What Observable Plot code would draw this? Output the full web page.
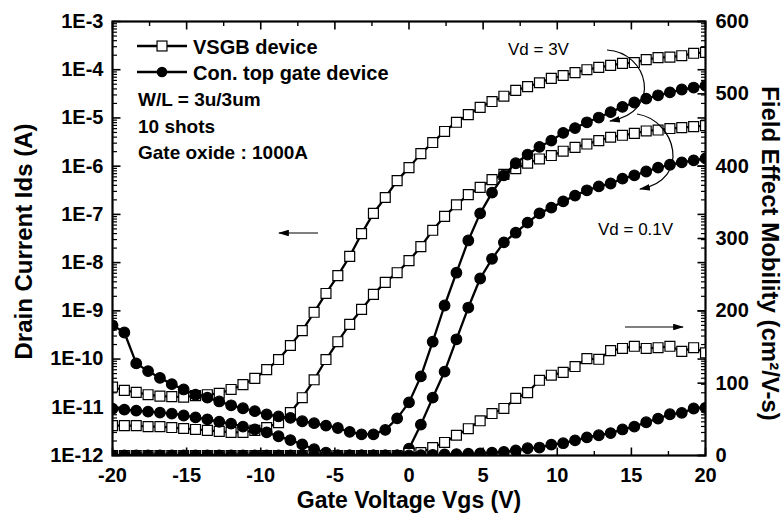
<!DOCTYPE html>
<html><head><meta charset="utf-8">
<script src="https://cdn.jsdelivr.net/npm/d3@7"></script>
<script src="https://cdn.jsdelivr.net/npm/@observablehq/plot@0.6"></script>
<style>
html,body{margin:0;padding:0;background:#fff;}
#wrap{position:relative;width:784px;height:522px;overflow:hidden;}
#wrap svg{position:absolute;left:0;top:0;}
</style></head><body><div id="wrap"></div>
<script>
// ---------- data ----------
const vgs = [-20,-19.2,-18.4,-17.6,-16.8,-16,-15.2,-14.4,-13.6,-12.8,-12,-11.2,-10.4,-9.6,-8.8,-8,-7.2,-6.4,-5.6,-4.8,-4,-3.2,-2.4,-1.6,-0.8,0,0.8,1.6,2.4,3.2,4,4.8,5.6,6.4,7.2,8,8.8,9.6,10.4,11.2,12,12.8,13.6,14.4,15.2,16,16.8,17.6,18.4,19.2,20];

// VSGB device, Vd = 3V (A)
const idsVsgb3V = [2.63e-11,2.24e-11,2.04e-11,1.82e-11,1.70e-11,1.66e-11,1.62e-11,1.74e-11,1.82e-11,1.95e-11,2.34e-11,2.95e-11,3.98e-11,6.03e-11,9.77e-11,1.91e-10,3.89e-10,9.33e-10,2.29e-9,5.37e-9,1.35e-8,3.98e-8,1.05e-7,2.24e-7,5.01e-7,9.33e-7,1.82e-6,3.09e-6,5.25e-6,8.13e-6,1.17e-5,1.66e-5,2.19e-5,2.82e-5,3.72e-5,4.47e-5,5.37e-5,6.61e-5,7.59e-5,8.71e-5,1.0e-4,1.12e-4,1.23e-4,1.35e-4,1.41e-4,1.62e-4,1.78e-4,1.82e-4,1.95e-4,2.19e-4,2.29e-4];
// VSGB device, Vd = 0.1V (A)
const idsVsgb01V = [4.17e-12,4.17e-12,4.17e-12,3.98e-12,3.98e-12,3.80e-12,3.63e-12,3.47e-12,3.31e-12,3.16e-12,3.02e-12,3.02e-12,3.31e-12,3.80e-12,4.79e-12,7.76e-12,1.58e-11,3.72e-11,9.77e-11,2.29e-10,5.25e-10,1.07e-9,2.19e-9,3.89e-9,6.17e-9,1.10e-8,2.14e-8,4.68e-8,9.12e-8,1.58e-7,2.57e-7,3.63e-7,5.25e-7,6.76e-7,8.91e-7,1.15e-6,1.41e-6,1.66e-6,2.04e-6,2.45e-6,2.88e-6,3.39e-6,3.98e-6,4.37e-6,4.79e-6,5.37e-6,5.62e-6,6.03e-6,6.31e-6,6.61e-6,6.92e-6];
// Con. top gate device, Vd = 3V (A)
const idsCon3V = [5.01e-10,3.55e-10,8.13e-11,5.62e-11,4.07e-11,3.02e-11,2.34e-11,1.82e-11,1.58e-11,1.32e-11,1.10e-11,9.55e-12,8.32e-12,7.08e-12,6.46e-12,6.03e-12,5.13e-12,4.68e-12,4.17e-12,3.72e-12,3.09e-12,2.75e-12,2.75e-12,3.39e-12,5.89e-12,1.26e-11,4.37e-11,2.29e-10,1.29e-9,6.17e-9,2.88e-8,1.05e-7,2.82e-7,6.46e-7,1.15e-6,1.74e-6,2.51e-6,3.39e-6,4.90e-6,6.17e-6,8.13e-6,1.02e-5,1.32e-5,1.70e-5,2.09e-5,2.51e-5,2.95e-5,3.39e-5,3.89e-5,4.27e-5,4.68e-5];
// Con. top gate device, Vd = 0.1V (A)
const idsCon01V = [9.33e-12,8.91e-12,8.51e-12,8.13e-12,7.76e-12,7.41e-12,6.76e-12,6.17e-12,5.62e-12,5.01e-12,4.57e-12,3.98e-12,3.47e-12,3.02e-12,2.51e-12,2.09e-12,1.70e-12,1.35e-12,1.15e-12,1.0e-12,1.0e-12,1.0e-12,1.0e-12,1.0e-12,1.0e-12,1.38e-12,4.37e-12,1.58e-11,5.50e-11,2.57e-10,1.17e-9,4.68e-9,1.20e-8,2.63e-8,4.17e-8,6.76e-8,1.05e-7,1.38e-7,1.86e-7,2.45e-7,3.16e-7,3.80e-7,4.37e-7,5.50e-7,6.46e-7,7.76e-7,9.33e-7,1.07e-6,1.20e-6,1.32e-6,1.45e-6];
// Field effect mobility (cm2/V-s)
const mobVsgb = [0,0,0,0,0,0,0,0,0,0,0,0,0,0,0,0,0,0,0,0,0,0,0,0,0,3,4,11,18,28,37,48,58,65,79,87,104,111,115,123,134,133,145,148,151,148,149,151,144,149,142];
const mobCon = [0,0,0,0,0,0,0,0,0,0,0,0,0,0,0,0,0,0,0,0,0,0,0,0,0,0,0.5,1,1.5,2,2.5,3,4,5,7,10,11,15,17,21,25,28,31,36,40,46,51,57,59,65,66];

// ---------- ticks / labels ----------
const yTickValues = [1e-12,1e-11,1e-10,1e-9,1e-8,1e-7,1e-6,1e-5,1e-4,1e-3];
const yTickLabels = ["1E-12","1E-11","1E-10","1E-9","1E-8","1E-7","1E-6","1E-5","1E-4","1E-3"];
const xTickValues = [-20,-15,-10,-5,0,5,10,15,20];
const xTickLabels = ["-20","-15","-10","-5","0","5","10","15","20"];
const xMinorTicks = [-17.5,-12.5,-7.5,-2.5,2.5,7.5,12.5,17.5];
const mobTickValues = [0,100,200,300,400,500,600];
const mobTickLabels = ["0","100","200","300","400","500","600"];
const legendLabels = ["VSGB device","Con. top gate device"];
const noteLines = ["W/L = 3u/3um","10 shots","Gate oxide : 1000A"];
const vdLabels = ["Vd = 3V","Vd = 0.1V"];
const xTitle = "Gate Voltage Vgs (V)";
const yTitle = "Drain Current Ids (A)";
const y2Title = "Field Effect Mobility (cm\u00B2/V-s)";

// ---------- layout ----------
const W = 784, H = 522;
const M = {top:21, right:79, bottom:67, left:112};
const PW = W - M.left - M.right, PH = H - M.top - M.bottom;
const FONT = "Arial, 'Liberation Sans', Helvetica, sans-serif";
const X_DOMAIN = [-20, 20], Y_DOMAIN = [1e-12, 1e-3], MOB_DOMAIN = [0, 600];
const common = {
  width: W, height: H,
  marginTop: M.top, marginRight: M.right, marginBottom: M.bottom, marginLeft: M.left,
  style: {fontFamily: FONT, fontWeight: "bold", fontSize: "20px", background: "transparent", color: "black", overflow: "visible"}
};
const SQ_R = 5.6, CI_R = 5.3;
const MAJ = 8, MIN = 4.5;

const yMinor = [];
yTickValues.slice(0, -1).forEach(d => { for (let m = 2; m <= 9; m++) yMinor.push(d * m); });

// tick lengths expressed in each scale's own units
const xPerPx = (X_DOMAIN[1] - X_DOMAIN[0]) / PW;
const logPerPx = Math.log10(Y_DOMAIN[1] / Y_DOMAIN[0]) / PH;
const xIn = (edge, px) => edge + Math.sign(-edge) * px * xPerPx;      // from an x edge inward
const yLogIn = (edge, px, up) => edge * Math.pow(10, (up ? 1 : -1) * px * logPerPx);

function seriesMarks(vals, symbol) {
  const data = vgs.map((v, i) => ({v, y: vals[i]}));
  return [
    Plot.line(data, {x: "v", y: "y", stroke: "black", strokeWidth: 2.3, clip: true}),
    Plot.dot(data, {x: "v", y: "y", symbol, r: symbol === "square" ? SQ_R : CI_R,
      fill: symbol === "square" ? "white" : "black", stroke: "black", strokeWidth: 1.2, clip: true})
  ];
}

// inward tick marks as Plot link marks in data space
function yTickLinks(vals, px, sw) {
  return [
    Plot.link(vals, {x1: () => X_DOMAIN[0], x2: () => xIn(X_DOMAIN[0], px), y1: d => d, y2: d => d, stroke: "black", strokeWidth: sw}),
    Plot.link(vals, {x1: () => X_DOMAIN[1], x2: () => xIn(X_DOMAIN[1], px), y1: d => d, y2: d => d, stroke: "black", strokeWidth: sw})
  ];
}
function xTickLinks(vals, px, sw) {
  return [
    Plot.link(vals, {x1: d => d, x2: d => d, y1: () => Y_DOMAIN[0], y2: () => yLogIn(Y_DOMAIN[0], px, true), stroke: "black", strokeWidth: sw}),
    Plot.link(vals, {x1: d => d, x2: d => d, y1: () => Y_DOMAIN[1], y2: () => yLogIn(Y_DOMAIN[1], px, false), stroke: "black", strokeWidth: sw})
  ];
}

const plot1 = Plot.plot({
  ...common,
  x: {domain: X_DOMAIN, axis: null},
  y: {type: "log", domain: Y_DOMAIN, axis: null},
  marks: [
    Plot.axisX(xTickValues, {anchor: "bottom", tickSize: 0, tickPadding: 12, label: null,
      tickFormat: d => xTickLabels[xTickValues.indexOf(d)]}),
    Plot.axisY(yTickValues, {anchor: "left", tickSize: 0, tickPadding: 9, label: null,
      tickFormat: d => yTickLabels[yTickValues.indexOf(d)]}),
    ...yTickLinks(yTickValues, MAJ, 1.6),
    ...yTickLinks(yMinor, MIN, 1.2),
    ...xTickLinks(xTickValues, MAJ, 1.6),
    ...xTickLinks(xMinorTicks, MIN, 1.4),
    ...seriesMarks(idsVsgb3V, "square"),
    ...seriesMarks(idsVsgb01V, "square"),
    ...seriesMarks(idsCon3V, "circle"),
    ...seriesMarks(idsCon01V, "circle"),
    Plot.frame({stroke: "black", strokeWidth: 2.2})
  ]
});

const mobPerPx = (MOB_DOMAIN[1] - MOB_DOMAIN[0]) / PH;
const plot2 = Plot.plot({
  ...common,
  x: {domain: X_DOMAIN, axis: null},
  y: {domain: MOB_DOMAIN, axis: null},
  marks: [
    Plot.axisY(mobTickValues, {anchor: "right", tickSize: 0, tickPadding: 10, label: null,
      tickFormat: d => mobTickLabels[mobTickValues.indexOf(d)]}),
    Plot.link(mobTickValues, {x1: () => X_DOMAIN[1], x2: () => xIn(X_DOMAIN[1], MAJ), y1: d => d, y2: d => d, stroke: "black", strokeWidth: 1.6}),
    ...seriesMarks(mobVsgb, "square"),
    ...seriesMarks(mobCon, "circle"),
    Plot.text([xTitle], {text: d => d, frameAnchor: "bottom", textAnchor: "middle", dy: 52, fontSize: 23, fontWeight: "bold"}),
    Plot.text([yTitle], {text: d => d, frameAnchor: "left", textAnchor: "middle", dx: -88, dy: 3, rotate: -90, fontSize: 24, fontWeight: "bold"}),
    Plot.text([y2Title], {text: d => d, frameAnchor: "right", textAnchor: "middle", dx: 64, dy: 15, rotate: 90, fontSize: 24, fontWeight: "bold"})
  ]
});

const wrap = document.getElementById("wrap");
wrap.appendChild(plot1);
wrap.appendChild(plot2);

// ---------- annotation layer ----------
const svg = d3.select(plot2);
const defs = svg.append("defs");
defs.append("marker").attr("id", "ah").attr("viewBox", "0 0 10 6")
  .attr("refX", 9).attr("refY", 3).attr("markerWidth", 11).attr("markerHeight", 6.6)
  .attr("markerUnits", "userSpaceOnUse").attr("orient", "auto")
  .append("path").attr("d", "M0,0L10,3L0,6z").attr("fill", "black");
const g = svg.append("g").attr("font-family", FONT).attr("fill", "black").attr("text-anchor", "start");

const legendY = [46, 72];
const legendSym = ["square", "circle"];
legendLabels.forEach((lab, i) => {
  const y = legendY[i];
  g.append("line").attr("x1", 137).attr("x2", 187).attr("y1", y).attr("y2", y)
    .attr("stroke", "black").attr("stroke-width", 2.4);
  if (legendSym[i] === "square") {
    const s = SQ_R * Math.sqrt(Math.PI);
    g.append("rect").attr("x", 162 - s / 2).attr("y", y - s / 2).attr("width", s).attr("height", s)
      .attr("fill", "white").attr("stroke", "black").attr("stroke-width", 1.2);
  } else {
    g.append("circle").attr("cx", 162).attr("cy", y).attr("r", CI_R).attr("fill", "black");
  }
  g.append("text").attr("x", 193).attr("y", y + 7.5).attr("font-size", 20).attr("font-weight", "bold").text(lab);
});
const noteY = [106, 133, 159];
noteLines.forEach((t, i) => {
  g.append("text").attr("x", 138).attr("y", noteY[i]).attr("font-size", 19).attr("font-weight", "bold").text(t);
});
g.append("text").attr("x", 508).attr("y", 55).attr("font-size", 17).attr("font-weight", "normal").text(vdLabels[0]);
g.append("text").attr("x", 598).attr("y", 235).attr("font-size", 17).attr("font-weight", "normal").text(vdLabels[1]);

const arrows = [
  "M318,233L279,233",
  "M625,327L683,327",
  "M607,50C648,52 664,112 610,121",
  "M637,114C676,120 692,180 640,189"
];
arrows.forEach(d => {
  g.append("path").attr("d", d).attr("fill", "none").attr("stroke", "black")
    .attr("stroke-width", 1.2).attr("marker-end", "url(#ah)");
});
</script></body></html>
